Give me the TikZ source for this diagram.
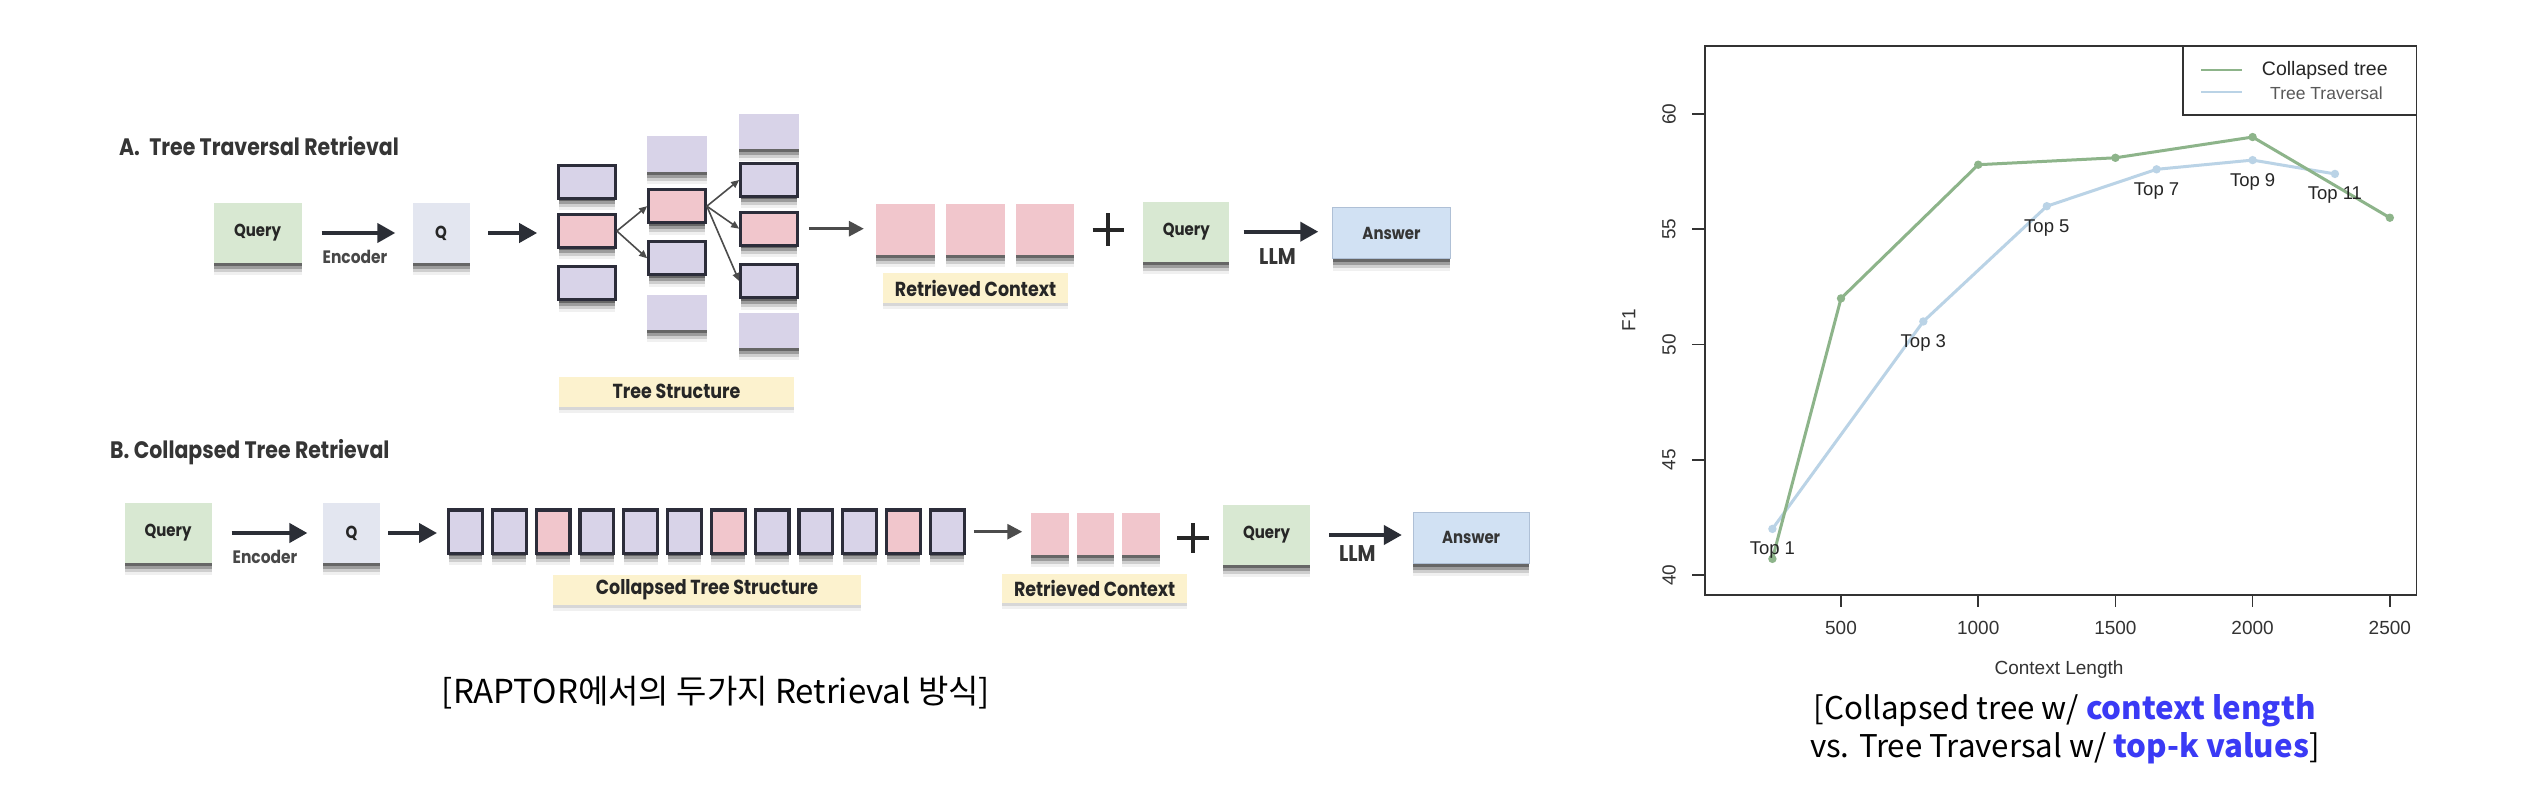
\documentclass[tikz,border=0pt]{standalone}
\usepackage{fontspec}
\usetikzlibrary{arrows.meta,shadows,calc}
\setmainfont{Liberation Sans}
\newfontfamily\pop{Poppins}[FakeStretch=0.86]
\newcommand\popb{\pop\bfseries}
\newfontfamily\kr{Noto Sans CJK KR}
\newfontfamily\lib{Liberation Sans}
\definecolor{qgreen}{HTML}{D8E8D2}
\definecolor{qgray}{HTML}{E3E6F0}
\definecolor{lav}{HTML}{D8D3E8}
\definecolor{pinkb}{HTML}{F1C6CC}
\definecolor{ansb}{HTML}{D1E1F3}
\definecolor{ansd}{HTML}{AFC0D6}
\definecolor{ylab}{HTML}{FCF2CE}
\definecolor{bord}{HTML}{2C2D3A}
\definecolor{txt}{HTML}{262626}
\definecolor{headc}{HTML}{353535}
\definecolor{arr}{HTML}{2B2E36}
\definecolor{garr}{HTML}{4C4C4C}
\definecolor{cgreen}{HTML}{8DB48A}
\definecolor{cblue}{HTML}{BAD3E6}
\definecolor{capblue}{HTML}{3A3AF5}
\definecolor{axc}{HTML}{333333}
\tikzset{
  shd/.style={general shadow={shadow yshift=-3pt, fill=black, opacity=.34},
              general shadow={shadow yshift=-6pt, fill=black, opacity=.24},
              general shadow={shadow yshift=-9pt, fill=black, opacity=.14},
              general shadow={shadow yshift=-12pt, fill=black, opacity=.06}},
  shdl/.style={general shadow={shadow yshift=-3pt, fill=black, opacity=.10},
               general shadow={shadow yshift=-6pt, fill=black, opacity=.06}},
  boxfont/.style={font=\popb\fontsize{17.4}{20}\selectfont, text=txt},
  qb/.style={shd, fill=qgreen, inner sep=0pt, boxfont},
  qs/.style={shd, fill=qgray, inner sep=0pt, boxfont},
  ab/.style={shd, fill=ansb, draw=ansd, line width=.8pt, inner sep=0pt, boxfont, text=headc},
  tb/.style={shd, draw=bord, line width=3.2pt, fill=lav, inner sep=0pt, minimum width=56.5pt, minimum height=33pt},
  tbp/.style={tb, fill=pinkb},
  tn/.style={shd, fill=lav, inner sep=0pt, minimum width=59.7pt, minimum height=35.5pt},
  cb/.style={shd, draw=bord, line width=3.2pt, inner sep=0pt, minimum width=33.8pt, minimum height=43.5pt},
  rb/.style={shd, fill=pinkb, inner sep=0pt},
  ylb/.style={shdl, fill=ylab, inner sep=0pt, font=\popb\fontsize{20.3}{24}\selectfont, text=txt},
  hd/.style={anchor=west, font=\popb\fontsize{23.8}{28}\selectfont, text=headc},
  lbl/.style={font=\popb\fontsize{18}{21}\selectfont, text=black!72},
  llm/.style={font=\popb\fontsize{22.7}{26}\selectfont, text=headc},
  bigarr/.style={draw=arr, line width=4pt, -{Triangle[length=18pt,width=19pt]}},
  midarr/.style={draw=garr, line width=3pt, -{Triangle[length=15pt,width=15pt]}},
  tarr/.style={draw=garr, line width=1.6pt, -{Triangle[length=8pt,width=7pt]}},
  plusl/.style={draw=black!85, line width=4pt},
  tick/.style={font=\lib\fontsize{19}{22}\selectfont, text=axc},
  toplbl/.style={font=\lib\fontsize{18.5}{22}\selectfont, text=black!85},
  dl/.style={line width=3pt, line join=round},
}
\begin{document}
\begin{tikzpicture}[x=1pt,y=-1pt]
\useasboundingbox[fill=white] (0,0) rectangle (2526,810);

% ---------- A ----------
\node[hd] (hA) at (115.6,146) {A.\hspace{5pt} Tree Traversal Retrieval};
\node[qb, minimum width=88pt, minimum height=60pt] (qA) at (257.5,233) {Query};
\node[qs, minimum width=57pt, minimum height=60pt] (QA) at (441,233) {Q};
\draw[bigarr, shorten <=20pt, shorten >=17pt] (qA) -- (QA);
\node[lbl] (encA) at (355,256.7) {Encoder};

\node[tb]  (t11) at (587,181.7) {};
\node[tbp] (t12) at (587,231) {};
\node[tb]  (t13) at (587,283.3) {};
\node[tn]  (t21) at (677,154.2) {};
\node[tbp] (t22) at (677,206.2) {};
\node[tb]  (t23) at (677,258.3) {};
\node[tn]  (t24) at (677,312.5) {};
\node[tn]  (t31) at (769,131.3) {};
\node[tb]  (t32) at (769,180) {};
\node[tbp] (t33) at (769,228.7) {};
\node[tb]  (t34) at (769,281) {};
\node[tn]  (t35) at (769,330.5) {};

\draw[bigarr, shorten <=18.5pt, shorten >=20pt] (QA.east) -- (QA.east -| t12.west);
\draw[tarr] (t12.east) -- (t22.west);
\draw[tarr] (t12.east) -- (t23.west);
\draw[tarr] (t22.east) -- (t32.west);
\draw[tarr] (t22.east) -- (t33.west);
\draw[tarr] (t22.east) -- (t34.west);

\node[ylb, minimum width=235pt, minimum height=30pt] (tsA) at (676.5,391.7) {Tree Structure};

\node[rb, minimum width=58.5pt, minimum height=50.7pt] (r1) at (905.3,229.7) {};
\node[rb, minimum width=58.5pt, minimum height=50.7pt] (r2) at (975.5,229.7) {};
\node[rb, minimum width=58.5pt, minimum height=50.7pt] (r3) at (1045.2,229.7) {};
\draw[midarr, shorten <=10pt, shorten >=12pt] (t33.east) -- (t33.east -| r1.west);
\node[ylb, minimum width=185.7pt, minimum height=30pt] (rcA) at (975.5,288.3) {Retrieved Context};

\node[inner sep=0pt, minimum width=30.6pt, minimum height=32.7pt] (pA) at (1108.2,229.7) {};
\draw[plusl] (pA.north) -- (pA.south) (pA.west) -- (pA.east);

\node[qb, minimum width=86pt, minimum height=60pt] (qA2) at (1186.3,231.7) {Query};
\node[ab, minimum width=117.6pt, minimum height=51.8pt] (ansA) at (1391.5,233) {Answer};
\draw[bigarr, shorten <=14pt, shorten >=14pt] (qA2.east) -- (qA2.east -| ansA.west);
\node[llm] (llmA) at (1277.5,256.7) {LLM};

% ---------- B ----------
\node[hd] (hB) at (106.7,451.7) {B. Collapsed Tree Retrieval};
\node[qb, minimum width=87pt, minimum height=60.6pt] (qB) at (168,533) {Query};
\node[qs, minimum width=57pt, minimum height=60.6pt] (QB) at (351.5,533) {Q};
\draw[bigarr, shorten <=20pt, shorten >=15.4pt] (qB) -- (QB);
\node[lbl] (encB) at (265,556.7) {Encoder};

\foreach \i/\c in {1/lav,2/lav,3/pinkb,4/lav,5/lav,6/lav,7/pinkb,8/lav,9/lav,10/lav,11/pinkb,12/lav}
  \node[cb, fill=\c] (b\i) at ({465.5+43.8*(\i-1)},531.7) {};
\draw[bigarr, shorten <=8pt, shorten >=10pt] (QB.east) -- (QB.east -| b1.west);
\node[ylb, minimum width=308.5pt, minimum height=30pt] (ctsB) at (707,590) {Collapsed Tree Structure};

\node[rb, minimum width=37.5pt, minimum height=42.3pt] (s1) at (1050.2,533.8) {};
\node[rb, minimum width=37.5pt, minimum height=42.3pt] (s2) at (1095.5,533.8) {};
\node[rb, minimum width=37.5pt, minimum height=42.3pt] (s3) at (1141,533.8) {};
\draw[midarr, shorten <=8pt, shorten >=9pt] (b12.east) -- (b12.east -| s1.west);
\node[ylb, minimum width=184.3pt, minimum height=28.7pt] (rcB) at (1094.6,588.3) {Retrieved Context};

\node[inner sep=0pt, minimum width=31pt, minimum height=29pt] (pB) at (1193,538) {};
\draw[plusl] (pB.north) -- (pB.south) (pB.west) -- (pB.east);

\node[qb, minimum width=87pt, minimum height=60pt] (qB2) at (1266.5,535) {Query};
\node[ab, minimum width=115.7pt, minimum height=51.5pt] (ansB) at (1471.1,537.8) {Answer};
\draw[bigarr, shorten <=18.8pt, shorten >=11pt] (qB2.east) -- (qB2.east -| ansB.west);
\node[llm] (llmB) at (1357.3,554) {LLM};

% ---------- captions ----------
\node[font=\kr\fontsize{33}{38}\selectfont, text=black] (capL) at (716,693) {[RAPTOR에서의 두가지 Retrieval 방식]};
\node[font=\kr\fontsize{31.3}{38.3}\selectfont, text=black, align=center] (capR) at (2064.8,729)
  {[Collapsed tree w/ \textcolor{capblue}{\bfseries context length}\\vs. Tree Traversal w/ \textcolor{capblue}{\bfseries top-k values}]};

% ---------- chart ----------
\draw[axc, line width=1.6pt] (1705,46) rectangle (2416.5,595);
\foreach \v in {500,1000,1500,2000,2500}{
  \draw[axc, line width=1.6pt] ({1703.8+0.2744*\v},595) -- ({1703.8+0.2744*\v},607);
  \node[tick] (xl\v) at ({1703.8+0.2744*\v},628.3) {\v};
}
\foreach \f in {40,45,50,55,60}{
  \draw[axc, line width=1.6pt] (1692,{575-23.05*(\f-40)}) -- (1705,{575-23.05*(\f-40)});
  \node[tick, rotate=90] (yl\f) at (1669,{575-23.05*(\f-40)}) {\f};
}
\node[tick, rotate=90] (f1) at (1628.7,320) {F1};
\node[tick] (xlab) at (2059,670) {Context Length};

\begin{scope}[shift={(1703.8,575)}, x=0.2744pt, y=23.05pt]
  \coordinate (c1) at (250,0.7);
  \coordinate (c2) at (500,12);
  \coordinate (c3) at (1000,17.8);
  \coordinate (c4) at (1500,18.1);
  \coordinate (c5) at (2000,19);
  \coordinate (c6) at (2500,15.5);
  \coordinate (d1) at (250,2);
  \coordinate (d2) at (800,11);
  \coordinate (d3) at (1250,16);
  \coordinate (d4) at (1650,17.6);
  \coordinate (d5) at (2000,18);
  \coordinate (d6) at (2300,17.4);
\end{scope}
\draw[dl, cblue] (d1) -- (d2) -- (d3) -- (d4) -- (d5) -- (d6);
\foreach \p in {d1,d2,d3,d4,d5,d6} \fill[cblue] (\p) circle (4.2pt);
\draw[dl, cgreen] (c1) -- (c2) -- (c3) -- (c4) -- (c5) -- (c6);
\foreach \p in {c1,c2,c3,c4,c5,c6} \fill[cgreen] (\p) circle (4.2pt);
\node[toplbl, yshift=-21.5pt] (k1) at (d1) {Top 1};
\node[toplbl, yshift=-21.5pt] (k3) at (d2) {Top 3};
\node[toplbl, yshift=-21.5pt] (k5) at (d3) {Top 5};
\node[toplbl, yshift=-21.5pt] (k7) at (d4) {Top 7};
\node[toplbl, yshift=-21.5pt] (k9) at (d5) {Top 9};
\node[toplbl, yshift=-21.5pt] (k11) at (d6) {Top 11};

% legend
\draw[axc, line width=1.6pt, fill=white] (2182.7,46) rectangle (2416.5,115);
\coordinate (lg1a) at (2201,70); \coordinate (lg1b) at (2242,70);
\coordinate (lg2a) at (2201,92); \coordinate (lg2b) at (2242,92);
\draw[cgreen, line width=2.2pt] (lg1a) -- (lg1b);
\draw[cblue, line width=2.2pt] (lg2a) -- (lg2b);
\node[anchor=west, font=\lib\fontsize{19.5}{22}\selectfont, text=black!85, inner sep=0pt] (lgt1) at (2261.7,70) {Collapsed tree};
\node[anchor=west, font=\lib\fontsize{17.5}{20}\selectfont, text=black!65, inner sep=0pt] (lgt2) at (2270,93.3) {Tree Traversal};
\end{tikzpicture}
\end{document}
